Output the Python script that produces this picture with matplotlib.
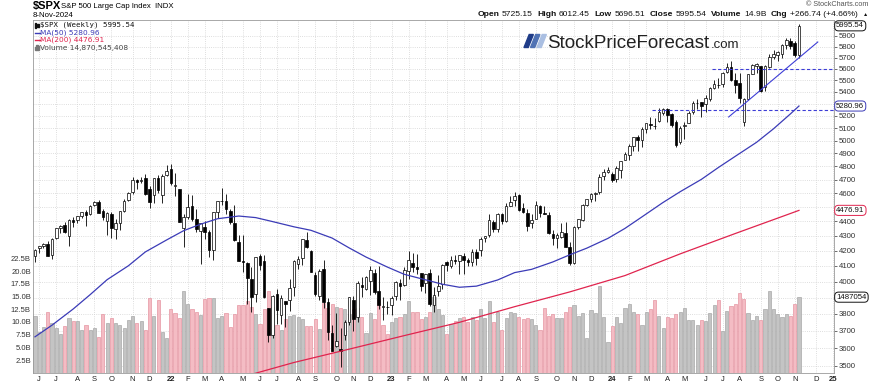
import matplotlib
matplotlib.use("Agg")
import matplotlib.pyplot as plt
import matplotlib.dates as mdates
import matplotlib.transforms as mtransforms
from matplotlib.patches import Polygon, Rectangle
from matplotlib.ticker import NullLocator, NullFormatter
import numpy as np
import pandas as pd

# --- weekly $SPX bars, 28-May-2021 .. 8-Nov-2024 ---
DATES = pd.date_range("2021-05-28", "2024-11-08", freq="W-FRI")
PREV_CLOSE = 4155.86

OPEN = [
    4168, 4216, 4229, 4248, 4174, 4285, 4356, 4373, 4296, 4409, 4407, 4437, 4462, 4450, 4513, 4535,
    4474, 4402, 4448, 4348, 4385, 4470, 4553, 4610, 4697, 4689, 4712, 4628, 4587, 4710, 4588, 4733,
    4779, 4655, 4632, 4356, 4432, 4505, 4413, 4333, 4364, 4328, 4202, 4463, 4541, 4547, 4475, 4385,
    4255, 4130, 4121, 4013, 3920, 4162, 4134, 3838, 3674, 3920, 3792, 3880, 3883, 3965, 4113, 4155,
    4270, 4195, 4041, 3909, 4083, 3874, 3686, 3610, 3596, 3678, 3752, 3883, 3780, 3978, 3956, 4005,
    4053, 3940, 3845, 3843,
    3853, 3910, 3990, 3979, 4070, 4119, 4096, 4052, 3993, 4055, 3855, 3940, 3987, 4124, 4098, 4140,
    4130, 4167, 4136, 4126, 4191, 4205, 4283, 4308, 4397, 4344, 4450, 4404, 4508, 4548, 4584, 4492,
    4459, 4389, 4415, 4511, 4461, 4445, 4314, 4284, 4289, 4321, 4226, 4121, 4364, 4412, 4517, 4555,
    4594, 4611, 4725, 4758,
    4745, 4703, 4772, 4848, 4888, 4957, 5026, 5005, 5093, 5131, 5114, 5154, 5219, 5258, 5211, 5149,
    4988, 5114, 5142, 5233, 5305, 5315, 5298, 5341, 5433, 5460, 5471, 5572, 5616, 5505, 5476, 5151,
    5344, 5557, 5630, 5623, 5442, 5615, 5711, 5727, 5737, 5819, 5857, 5833, 5725.15,
]
HIGH = [
    4213, 4234, 4249, 4262, 4287, 4356, 4372, 4394, 4415, 4429, 4440, 4468, 4480, 4513, 4546, 4549,
    4486, 4466, 4466, 4417, 4475, 4560, 4608, 4718, 4708, 4718, 4744, 4652, 4713, 4731, 4740, 4808,
    4818, 4749, 4632, 4453, 4595, 4590, 4490, 4385, 4402, 4337, 4465, 4546, 4637, 4593, 4485, 4513,
    4308, 4307, 4127, 4091, 4159, 4178, 4169, 3838, 3914, 3950, 3918, 3880, 4013, 4140, 4168, 4281,
    4326, 4203, 4062, 4077, 4140, 3900, 3733, 3807, 3717, 3762, 3906, 3912, 4001, 4029, 4034, 4101,
    4077, 4101, 3906, 3878,
    3907, 4003, 4016, 4095, 4195, 4183, 4176, 4053, 4049, 4079, 3966, 4040, 4110, 4133, 4164, 4170,
    4170, 4187, 4155, 4213, 4212, 4290, 4299, 4448, 4408, 4458, 4456, 4528, 4578, 4607, 4595, 4527,
    4490, 4452, 4541, 4516, 4511, 4466, 4338, 4318, 4385, 4393, 4255, 4366, 4418, 4520, 4560, 4599,
    4609, 4739, 4778, 4793,
    4755, 4802, 4843, 4907, 4975, 5030, 5048, 5111, 5141, 5189, 5179, 5262, 5265, 5264, 5219, 5168,
    5114, 5146, 5239, 5325, 5342, 5315, 5375, 5441, 5505, 5524, 5570, 5655, 5669, 5566, 5566, 5350,
    5555, 5643, 5651, 5624, 5636, 5733, 5767, 5765, 5823, 5879, 5878, 5854, 6012.45,
]
LOW = [
    4127, 4188, 4217, 4165, 4144, 4279, 4321, 4322, 4233, 4359, 4386, 4426, 4367, 4445, 4508, 4457,
    4406, 4305, 4288, 4278, 4340, 4464, 4541, 4595, 4631, 4672, 4585, 4495, 4531, 4600, 4531, 4727,
    4662, 4582, 4395, 4222, 4414, 4401, 4327, 4115, 4280, 4157, 4138, 4424, 4517, 4450, 4381, 4267,
    4129, 4062, 3859, 3811, 3875, 4074, 3900, 3637, 3658, 3739, 3742, 3721, 3819, 3911, 4079, 4107,
    4218, 4058, 3907, 3887, 3837, 3647, 3584, 3608, 3492, 3647, 3736, 3699, 3751, 3906, 3946, 3918,
    3923, 3827, 3765, 3800,
    3795, 3885, 3885, 3969, 4013, 4061, 4047, 3943, 3928, 3847, 3809, 3908, 3956, 4069, 4084, 4114,
    4049, 4048, 4099, 4098, 4103, 4167, 4261, 4292, 4328, 4327, 4384, 4394, 4505, 4507, 4474, 4458,
    4335, 4356, 4414, 4431, 4448, 4316, 4238, 4217, 4283, 4222, 4104, 4114, 4346, 4402, 4511, 4537,
    4546, 4594, 4697, 4751,
    4682, 4682, 4714, 4845, 4845, 4918, 4920, 4946, 5057, 5091, 5092, 5146, 5204, 5147, 5107, 4953,
    4975, 5011, 5142, 5211, 5257, 5191, 5234, 5324, 5428, 5433, 5446, 5565, 5497, 5390, 5302, 5120,
    5331, 5552, 5561, 5402, 5406, 5604, 5690, 5674, 5696, 5780, 5782, 5703, 5696.51,
]
CLOSE = [
    4204, 4230, 4247, 4166, 4281, 4352, 4370, 4327, 4412, 4395, 4437, 4468, 4442, 4509, 4535, 4459,
    4433, 4455, 4357, 4391, 4471, 4545, 4605, 4697, 4683, 4698, 4595, 4538, 4712, 4620, 4726, 4766,
    4677, 4663, 4398, 4432, 4501, 4419, 4349, 4385, 4329, 4204, 4463, 4543, 4546, 4488, 4393, 4272,
    4132, 4123, 4024, 3901, 4158, 4109, 3901, 3675, 3912, 3825, 3899, 3863, 3962, 4130, 4145, 4280,
    4228, 4058, 3924, 4067, 3873, 3693, 3586, 3640, 3583, 3753, 3901, 3771, 3993, 3965, 4026, 4072,
    3934, 3852, 3845, 3840,
    3895, 3999, 3973, 4071, 4136, 4090, 4079, 3970, 4046, 3862, 3917, 3971, 4109, 4105, 4138, 4133,
    4169, 4136, 4124, 4192, 4151, 4282, 4299, 4410, 4348, 4450, 4399, 4505, 4536, 4582, 4478, 4464,
    4370, 4406, 4516, 4457, 4450, 4320, 4288, 4309, 4327, 4224, 4117, 4358, 4415, 4514, 4559, 4595,
    4604, 4719, 4755, 4770,
    4697, 4784, 4840, 4891, 4959, 5027, 5006, 5089, 5137, 5124, 5117, 5234, 5254, 5204, 5123, 4967,
    5100, 5128, 5223, 5303, 5305, 5278, 5347, 5431, 5465, 5460, 5567, 5615, 5505, 5459, 5347, 5344,
    5554, 5635, 5648, 5408, 5626, 5703, 5738, 5751, 5815, 5865, 5808, 5729, 5995.54,
]
# weekly volume, billions of shares
VOLUME_B = [
    11.25, 8.1, 9.1, 11.9, 9.9, 8.9, 7.6, 9.3, 10.8, 10.2, 10.2, 8.4, 9.4, 8.4, 8.9, 7.0,
    11.5, 9.9, 10.7, 9.9, 9.4, 8.9, 10.4, 11.25, 9.8, 10.2, 8.4, 14.8, 11.25, 14.3, 8.0, 6.8,
    12.5, 11.7, 10.8, 16.0, 13.5, 12.6, 12.0, 11.4, 14.5, 14.8, 14.7, 10.8, 11.2, 11.8, 9.1, 11.6,
    13.4, 13.4, 14.1, 13.0, 11.5, 9.7, 12.5, 16.1, 13.0, 9.5, 8.5, 10.5, 11.2, 11.4, 11.0, 10.6,
    9.2, 9.2, 10.5, 8.6, 13.8, 12.8, 13.6, 13.0, 12.8, 12.6, 11.5, 12.5, 12.8, 11.0, 7.8, 11.8,
    10.6, 14.5, 9.5, 7.6,
    10.0, 10.7, 10.9, 11.5, 14.2, 12.0, 12.0, 10.5, 11.0, 12.0, 15.0, 12.5, 11.4, 7.6, 9.6, 10.2,
    10.8, 11.0, 10.0, 11.0, 10.4, 12.5, 10.8, 14.2, 10.0, 12.0, 8.5, 10.8, 12.0, 11.8, 11.0, 10.5,
    10.8, 10.6, 9.5, 8.5, 12.8, 11.2, 11.5, 10.7, 10.7, 12.0, 13.0, 13.4, 11.1, 11.7, 6.8, 12.4,
    11.7, 17.0, 10.9, 6.0,
    9.2, 10.9, 9.9, 12.7, 13.5, 12.0, 11.6, 9.4, 11.9, 12.6, 14.4, 11.2, 8.9, 10.9, 10.7, 11.6,
    12.0, 12.7, 10.3, 10.3, 9.5, 10.4, 10.1, 11.7, 13.4, 14.3, 8.3, 12.1, 13.2, 13.6, 15.7, 14.5,
    11.7, 10.3, 11.1, 10.4, 12.5, 16.1, 12.5, 11.6, 10.9, 11.6, 11.2, 13.6, 14.87,
]

MA50_DATES = ["2021-05-28", "2021-06-25", "2021-07-30", "2021-08-27", "2021-09-24", "2021-10-29",
              "2021-11-26", "2021-12-31", "2022-01-28", "2022-02-25", "2022-03-25", "2022-04-29",
              "2022-05-27", "2022-06-24", "2022-07-29", "2022-08-26", "2022-09-30", "2022-10-28",
              "2022-11-25", "2022-12-30", "2023-01-27", "2023-02-24", "2023-03-31", "2023-04-28",
              "2023-05-26", "2023-06-30", "2023-07-28", "2023-08-25", "2023-09-29", "2023-10-27",
              "2023-11-24", "2023-12-29", "2024-01-26", "2024-02-23", "2024-03-28", "2024-04-26",
              "2024-05-31", "2024-06-28", "2024-07-26", "2024-08-30", "2024-09-27", "2024-10-25",
              "2024-11-08"]
MA50 = [3665, 3733, 3830, 3918, 4012, 4101, 4192, 4272, 4335, 4380, 4418, 4437, 4426, 4398,
        4362, 4338, 4285, 4219, 4158, 4093, 4046, 4018, 3983, 3964, 3971, 4010, 4057, 4078,
        4126, 4173, 4217, 4283, 4351, 4431, 4531, 4611, 4702, 4791, 4877, 4986, 5094, 5216,
        5280.96]
MA200_DATES = ["2022-04-29", "2022-07-29", "2022-10-28", "2023-01-27", "2023-04-28", "2023-07-28",
               "2023-10-27", "2024-01-26", "2024-04-26", "2024-07-26", "2024-10-25", "2024-11-08"]
MA200 = [3434, 3519, 3594, 3672, 3750, 3844, 3935, 4038, 4179, 4316, 4455, 4476.91]

TREND_DATES = ["2024-07-15", "2024-12-09"]
TREND_PRICES = [5190, 5844]
LEVELS = [5600, 5245]
LEVEL_START = ["2024-06-17", "2024-03-11"]

PRICE_TICKS = [3500, 3600, 3700, 3800, 3900, 4000, 4100, 4200, 4300, 4400, 4500, 4600, 4700,
               4800, 4900, 5000, 5100, 5200, 5300, 5400, 5500, 5600, 5700, 5800, 5900]
HIDDEN_TICKS = [3900, 4500, 5300]   # covered by the value tags
VOL_TICKS = [2.5, 5.0, 7.5, 10.0, 12.5, 15.0, 17.5, 20.0, 22.5]

assert len(DATES) == len(OPEN) == len(HIGH) == len(LOW) == len(CLOSE) == len(VOLUME_B)

# ---------------------------------------------------------------
W, H = 875, 385
fig = plt.figure(figsize=(W / 100, H / 100), dpi=100)
PX = mtransforms.Affine2D().scale(1 / W, -1 / H).translate(0, 1) + fig.transFigure
SANS = ["Liberation Sans", "DejaVu Sans"]

L, R, T, B = 33, 834, 20, 373
rect = [L / W, 1 - B / H, (R - L) / W, (B - T) / H]
axv = fig.add_axes(rect)
ax = fig.add_axes(rect, sharex=axv)
ax.patch.set_visible(False)

x = mdates.date2num(DATES)
o, h, l, c = map(np.array, (OPEN, HIGH, LOW, CLOSE))
vol = np.array(VOLUME_B)
prev = np.concatenate([[PREV_CLOSE], c[:-1]])
x0, x1 = x[0] - 0.47 * 7, x[-1] + 8.25 * 7

# month ticks: first weekly bar of each month
fridays = pd.date_range(DATES[0], mdates.num2date(x1).replace(tzinfo=None), freq="W-FRI")
mticks, mlabels = [], []
for i in range(1, len(fridays)):
    if fridays[i].month != fridays[i - 1].month:
        d = fridays[i]
        mticks.append(mdates.date2num(d))
        mlabels.append(f"{d.year % 100:02d}" if d.month == 1 else d.strftime("%b")[0])

# grid (drawn behind volume bars)
gstyle = dict(color="#d4d4d4", lw=0.6, linestyles=(0, (1, 1.6)), zorder=0)
axv.vlines(mticks, 0, 1, transform=mtransforms.blended_transform_factory(axv.transData, axv.transAxes), **gstyle)
axv.hlines(PRICE_TICKS, 0, 1, transform=mtransforms.blended_transform_factory(axv.transAxes, ax.transData), **gstyle)

# volume
up = c >= prev
vcol = np.where(up, "#c4c4c4", "#f4bcc4")
vedge = np.where(up, "#a8a8a8", "#e596a3")
axv.bar(x, vol, width=5.2, color=vcol, edgecolor=vedge, linewidth=0.5, zorder=2)
axv.set_ylim(0, (B - T) / 5.1)

# candles
ax.vlines(x, l, h, color="black", lw=0.6, zorder=3)
body_lo = np.minimum(o, c)
body_h = np.maximum(np.abs(c - o), 1.5)
face = np.where(c >= o, "white", "black")
ax.bar(x, body_h, bottom=body_lo, width=4.3, color=face, edgecolor="black", linewidth=0.5, zorder=4)

# moving averages, trend line, levels
ax.plot(mdates.date2num(pd.to_datetime(MA50_DATES)), MA50, color="#3b3bb7", lw=0.9, zorder=5)
ax.plot(mdates.date2num(pd.to_datetime(MA200_DATES)), MA200, color="#e0244e", lw=0.9, zorder=5)
ax.plot(mdates.date2num(pd.to_datetime(TREND_DATES)), TREND_PRICES, color="#3d3dd6", lw=0.8, zorder=5)
ax.hlines(LEVELS, mdates.date2num(pd.to_datetime(LEVEL_START)), x1, colors="#3d3dd6",
          linestyles=(0, (3, 2)), lw=0.8, zorder=5)

ax.set_yscale("log")
ax.set_ylim(3461, 6051)
ax.set_xlim(x0, x1)

ax.yaxis.tick_right()
ax.set_yticks(PRICE_TICKS)
ax.set_yticklabels(["" if v in HIDDEN_TICKS else str(v) for v in PRICE_TICKS])
ax.yaxis.set_minor_locator(NullLocator())
ax.yaxis.set_minor_formatter(NullFormatter())
ax.tick_params(axis="y", which="major", labelsize=5.6, length=2, width=0.5, pad=1.5,
               colors="#333333", labelfontfamily="Liberation Sans")

axv.set_yticks(VOL_TICKS)
axv.set_yticklabels([f"{v:.1f}B" for v in VOL_TICKS])
axv.tick_params(axis="y", labelsize=5.5, length=0, pad=1.5, colors="#333333",
                labelfontfamily="Liberation Sans")
axv.tick_params(axis="x", labelbottom=False, length=0)

ax.set_xticks(mticks)
ax.set_xticklabels(mlabels)
ax.tick_params(axis="x", labelsize=5.5, length=0, pad=2.5, colors="#222222",
               labelfontfamily="Liberation Sans")
for t in ax.get_xticklabels():
    if t.get_text().isdigit():
        t.set_fontweight("bold")

for s in axv.spines.values():
    s.set_visible(False)
for s in ax.spines.values():
    s.set_color("#9a9a9a")
    s.set_linewidth(0.6)

# value tags on the right axis
tagkw = dict(xycoords=("axes fraction", "data"), xytext=(1.6, 0), textcoords="offset points",
             ha="left", va="center", fontsize=5.6, family="Liberation Sans",
             annotation_clip=False, zorder=10)
def tag(y, text, ec, coords=None):
    kw = dict(tagkw)
    if coords:
        kw["xycoords"] = coords
    ax.annotate(text, xy=(1, y), color="#111111",
                bbox=dict(boxstyle="round,pad=0.2,rounding_size=0.5", fc="white", ec=ec, lw=0.7), **kw)

tag(CLOSE[-1], f"{CLOSE[-1]:.2f}", "#111111")
tag(MA50[-1], f"{MA50[-1]:.2f}", "#3b3bb7")
tag(MA200[-1], f"{MA200[-1]:.2f}", "#e0244e")
tag(VOLUME_B[-1] / axv.get_ylim()[1], "1487054", "#111111", coords="axes fraction")

# legend block (top-left inside the chart)
fig.text(40, 25, f"$SPX (Weekly) {CLOSE[-1]:.2f}", transform=PX, fontsize=5.3,
         family="DejaVu Sans Mono", va="center", color="#111111")
fig.patches.append(Rectangle((35, 22.5), 1.4, 5, transform=PX, color="#111111"))
fig.patches.append(Rectangle((37.4, 23.5), 1.4, 3.5, transform=PX, color="#111111"))
fig.add_artist(plt.Line2D([34.5, 39.5], [32.7, 32.7], transform=PX, color="#3b3bb7", lw=1))
fig.text(40, 32.7, f"MA(50) {MA50[-1]:.2f}", transform=PX, fontsize=5.3, va="center", color="#3b3bb7")
fig.add_artist(plt.Line2D([34.5, 39.5], [40, 40], transform=PX, color="#e0244e", lw=1))
fig.text(40, 40, f"MA(200) {MA200[-1]:.2f}", transform=PX, fontsize=5.3, va="center", color="#e0244e")
for bx, bh in ((34.8, 3), (36.4, 5), (38.0, 4)):
    fig.patches.append(Rectangle((bx, 50 - bh), 1.2, bh, transform=PX, color="#777777"))
fig.text(40, 47.7, "Volume 14,870,545,408", transform=PX, fontsize=5.3, va="center", color="#444444")

# headers
fig.text(33, 6.5, "$SPX", transform=PX, fontsize=8, fontweight="bold", family=SANS, va="center")
fig.text(61, 7, "S&P 500 Large Cap Index  INDX", transform=PX, fontsize=5.6, family=SANS, va="center")
fig.text(33, 15.5, "8-Nov-2024", transform=PX, fontsize=5.6, family=SANS, va="center")
fig.text(868, 4.5, "\u00a9 StockCharts.com", transform=PX, fontsize=5.2, family=SANS, va="center",
         ha="right", color="#555555")

parts = [("Open", "bold"), ("5725.15", "normal"), ("High", "bold"), ("6012.45", "normal"),
         ("Low", "bold"), ("5696.51", "normal"), ("Close", "bold"), ("5995.54", "normal"),
         ("Volume", "bold"), ("14.9B", "normal"), ("Chg", "bold"), ("+266.74 (+4.66%)", "normal"),
         ("\u25b2", "normal")]
rend = fig.canvas.get_renderer()
objs = []
for s, wgt in parts:
    size = 3.8 if s == "\u25b2" else 6.1
    objs.append(fig.text(0, 14.5, s, transform=PX, fontsize=size, fontweight=wgt, family=SANS,
                         va="center", color="#111111"))
widths = [t.get_window_extent(rend).width for t in objs]
gaps = [2.6 if wgt == "bold" else 4.6 for _, wgt in parts[:-1]]
xpos = 868 - (sum(widths) + sum(gaps))
for i, t in enumerate(objs):
    t.set_x(xpos)
    xpos += widths[i] + (gaps[i] if i < len(gaps) else 0)

# StockPriceForecast.com watermark
for k, colr in enumerate(["#1f3c88", "#4f72b4", "#aabfe2"]):
    dx = 524 + 6.5 * k
    fig.patches.append(Polygon([(dx, 47.5), (dx + 4.2, 47.5), (dx + 9.4, 34.5), (dx + 5.2, 34.5)],
                               closed=True, transform=PX, color=colr))
fig.text(547, 47.5, "StockPriceForecast", transform=PX, fontsize=13.5, family=SANS,
         color="#222222", va="baseline")
fig.text(711, 47.5, ".com", transform=PX, fontsize=9.5, family=SANS, color="#222222", va="baseline")

fig.savefig("out.png", dpi=100)
